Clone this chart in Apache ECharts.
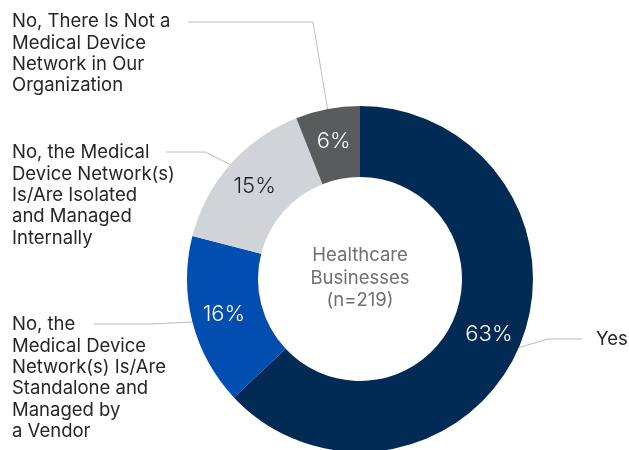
<!DOCTYPE html>
<html>
<head>
<meta charset="utf-8">
<script src="https://cdn.jsdelivr.net/npm/echarts@6/dist/echarts.min.js"></script>
<style>html,body{margin:0;padding:0;background:#fff;}#c{width:629px;height:450px;}</style>
</head>
<body>
<div id="c"></div>
<script>
var categories = [
  "Yes",
  "No, the\nMedical Device\nNetwork(s) Is/Are\nStandalone and\nManaged by\na Vendor",
  "No, the Medical\nDevice Network(s)\nIs/Are Isolated\nand Managed\nInternally",
  "No, There Is Not a\nMedical Device\nNetwork in Our\nOrganization"
];
var values = [63, 16, 15, 6];
var centerText = "Healthcare\nBusinesses\n(n=219)";

var colors = ["#012A55", "#024DB0", "#D0D3D7", "#5A5B5D"];
var pctColors = ["#ffffff", "#ffffff", "#222222", "#ffffff"];

var FONT = "Inter";
var CX = 360, CY = 279;

// label layout (text anchor and leader-line elbow/end)
var labelPlaces = [
  { x: 596, y: 339, align: "left", va: "middle", pts: [[548, 339], [582, 339]] },
  { x: 12, y: 314, align: "left", va: "top", pts: [[150, 324], [94, 324]] },
  { x: 12, y: 142, align: "left", va: "top", pts: [[205, 152], [166, 152]] },
  { x: 12, y: 11, align: "left", va: "top", pts: [[313, 22], [188, 22]] }
];

var innerData = categories.map(function (c, i) {
  return {
    name: c, value: values[i],
    itemStyle: { color: colors[i] },
    label: { color: pctColors[i] }
  };
});
var outerData = categories.map(function (c, i) {
  return { name: c, value: values[i] };
});

var chart = echarts.init(document.getElementById("c"), null, { renderer: "canvas" });
chart.setOption({
  animation: false,
  series: [
    {
      type: "pie",
      center: [CX, CY],
      radius: [102, 173],
      startAngle: 90,
      clockwise: true,
      silent: true,
      data: innerData,
      itemStyle: { borderWidth: 0 },
      label: {
        show: true,
        position: "inside",
        formatter: function (p) { return p.value + "%"; },
        fontFamily: FONT,
        fontSize: 22,
        fontWeight: 300
      },
      labelLine: { show: false }
    },
    {
      type: "pie",
      center: [CX, CY],
      radius: [102, 173],
      startAngle: 90,
      clockwise: true,
      silent: true,
      z: 1,
      data: outerData,
      itemStyle: { color: "rgba(0,0,0,0)" },
      avoidLabelOverlap: false,
      label: {
        show: true,
        position: "outside",
        formatter: "{b}",
        fontFamily: FONT,
        fontSize: 18.5,
        lineHeight: 21.4,
        color: "#262626"
      },
      labelLine: {
        show: true,
        length: 10,
        length2: 10,
        lineStyle: { color: "#bcbcbc", width: 1 }
      },
      labelLayout: function (params) {
        var lp = labelPlaces[params.dataIndex];
        var start = params.labelLinePoints ? params.labelLinePoints[0] : [CX, CY];
        return {
          x: lp.x, y: lp.y,
          align: lp.align, verticalAlign: lp.va,
          labelLinePoints: [start].concat(lp.pts)
        };
      }
    }
  ],
  graphic: [
    {
      type: "text",
      x: CX, y: CY - 1,
      style: {
        text: centerText,
        fontFamily: FONT,
        fontSize: 18.5,
        lineHeight: 22.5,
        fill: "#6f6f6f",
        textAlign: "center",
        textVerticalAlign: "middle"
      }
    }
  ]
});
</script>
</body>
</html>
